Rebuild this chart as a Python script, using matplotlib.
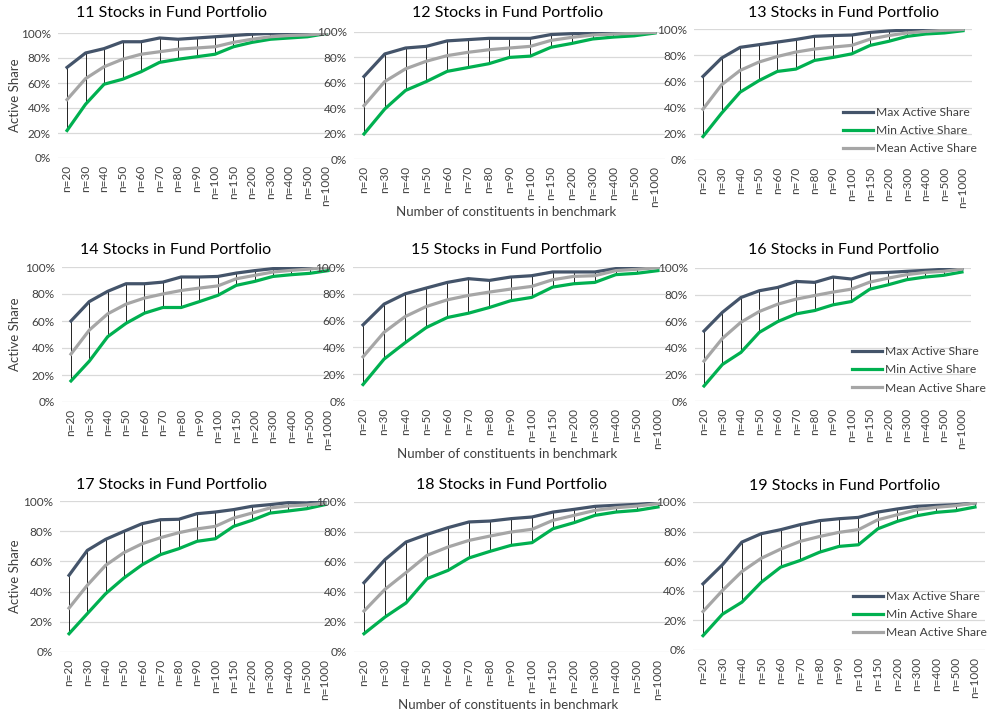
import matplotlib
matplotlib.use("Agg")
from matplotlib import pyplot as plt
from matplotlib.ticker import PercentFormatter

plt.rcParams['font.family'] = ['Lato', 'DejaVu Sans']

# benchmark sizes on the category axis
categories = ["n=20", "n=30", "n=40", "n=50", "n=60", "n=70", "n=80", "n=90",
              "n=100", "n=150", "n=200", "n=300", "n=400", "n=500", "n=1000"]

# active share (%) per number of stocks in the fund
max11 = [72.5, 84, 87.5, 93, 93, 96, 95, 96, 97, 98, 99, 99.7, 100, 100, 100]
min11 = [22, 43, 59, 63, 69, 76.5, 79, 81, 83, 89, 92.5, 95, 96, 97, 99.5]
mean11 = [46.7, 63.5, 73, 79, 83, 85, 87, 88, 89, 92.5, 95, 97, 98, 98.5, 99.5]

max12 = [65, 82.7, 87.4, 88.7, 93, 94, 95, 95, 95, 98, 98.7, 99.2, 99.5, 99.7, 100]
min12 = [19.7, 39.4, 54, 61, 69, 72, 75, 80, 81, 88, 91, 94.5, 96, 97, 99.2]
mean12 = [42, 61, 71, 77, 81.4, 84, 86, 87.4, 88.7, 93.4, 95.8, 97.6, 98.4, 99, 99.7]

max13 = [63.8, 77.8, 86, 88, 90, 92, 94.4, 95, 95.4, 97.4, 98.5, 99.2, 100, 100, 100]
min13 = [17.9, 35.7, 51.8, 60.5, 67.6, 69.4, 76, 78.3, 81, 87.5, 90.6, 94.4, 96.2, 97, 98.7]
mean13 = [38.8, 57.4, 68.4, 74.7, 79, 82.4, 84.7, 86.2, 87.5, 92.3, 95, 97, 98.2, 99, 99.7]

max14 = [60, 74.4, 82, 87.6, 87.6, 88.8, 92.6, 92.6, 93, 95.5, 97.3, 98.8, 99, 99.5, 100]
min14 = [15.6, 30.3, 48.4, 58.3, 65.8, 70, 70, 74.4, 79, 86.4, 89.3, 93, 94.3, 95.3, 97.3]
mean14 = [35.5, 53.3, 65.3, 72.5, 77, 80, 82.6, 84.4, 86, 91.3, 93.8, 96.3, 97.5, 98.5, 99.8]

max15 = [56.8, 72.3, 80, 84.3, 88.5, 91.3, 90, 92.5, 93.5, 96.3, 96.3, 96.3, 98.8, 99.3, 100]
min15 = [12.3, 31.3, 43.5, 54.8, 62.3, 65.5, 69.8, 74.8, 77.3, 85, 87.5, 88.5, 94.3, 95.3, 97.3]
mean15 = [33, 51.3, 63, 70.5, 75.5, 78.8, 81.3, 83.5, 85.5, 90.5, 93, 93.5, 97.3, 98.3, 99.5]

max16 = [52.6, 66.7, 77.8, 82.9, 85.4, 89.9, 89.2, 93.2, 91.7, 96.2, 96.7, 97.5, 98.2, 99, 99.5]
min16 = [11.3, 27.5, 36.5, 51.6, 59.7, 65.5, 68, 72.3, 74.8, 84.1, 87.4, 91.2, 93.2, 94.5, 97]
mean16 = [30, 47.1, 59.2, 67.3, 72.8, 76.6, 79.3, 81.9, 84.1, 89.4, 92.4, 95, 96.7, 97.5, 99.2]

max17 = [50.8, 67.3, 74.6, 79.9, 85, 87.6, 87.9, 91.6, 92.7, 94.3, 96.5, 97.6, 98.9, 98.7, 99.8]
min17 = [12.1, 25.4, 38.6, 49, 57.8, 64.5, 68.4, 73.3, 75, 83.2, 87.2, 92, 93.4, 94.9, 97.6]
mean17 = [29.1, 44.2, 57.4, 65.8, 71.7, 75.7, 79, 81.5, 83.2, 88.7, 92, 95.4, 96.7, 97.4, 98.5]

max18 = [46.2, 61.6, 73.3, 78.4, 82.9, 86.7, 87.3, 88.9, 90, 93.3, 95.1, 97.1, 97.8, 98.4, 99.5]
min18 = [12.2, 23.3, 32.7, 48.9, 54.4, 62.7, 67.1, 71.1, 72.9, 82.2, 86.2, 91.1, 93.3, 94.4, 96.7]
mean18 = [27.3, 41.8, 52.9, 64.4, 70, 74.4, 77.3, 80, 81.8, 87.8, 91.1, 94.4, 96.2, 97.3, 98.9]

max19 = [44.7, 57.6, 72.9, 78.6, 81.3, 84.7, 87.4, 88.7, 89.6, 93.2, 95.3, 97.1, 97.7, 98.2, 99.3]
min19 = [9.7, 24.2, 32.3, 45.8, 56, 60.5, 66.1, 70, 71.1, 81.9, 86.9, 90.7, 93, 94.1, 96.6]
mean19 = [26, 40.2, 53, 62, 68.2, 73.4, 76.7, 79.5, 81.3, 88, 91.4, 94.8, 96.4, 97.5, 99.3]

panels = [
    (11, max11, min11, mean11), (12, max12, min12, mean12), (13, max13, min13, mean13),
    (14, max14, min14, mean14), (15, max15, min15, mean15), (16, max16, min16, mean16),
    (17, max17, min17, mean17), (18, max18, min18, mean18), (19, max19, min19, mean19),
]

W, H = 993, 714
# plot areas in pixels: left, right, top (100%), bottom (0%)
boxes = [
    (57.8, 335.2, 33, 158), (353.6, 665.4, 32, 159), (693.7, 972.3, 29, 160),
    (61.8, 337.2, 267, 402), (352.5, 668.5, 267, 401), (694.8, 971.2, 268, 401),
    (59.9, 334.1, 501, 652), (353.5, 668.5, 502, 652), (693.3, 984.7, 502, 650),
]
# title centres in pixels
title_xy = [(172, 13), (508, 13), (844, 13),
            (176, 250), (507, 250), (844, 250),
            (172, 485), (512, 485), (845, 486)]
# legend: left of handle and y of first entry, pixels
legend_xy = {2: (843, 115), 5: (852, 354), 8: (853, 599)}

c_max = "#44546A"
c_min = "#00B050"
c_mean = "#A6A6A6"

fig = plt.figure(figsize=(W / 100, H / 100), dpi=100)
x = list(range(len(categories)))

for i, (nst, vmax, vmin, vmean) in enumerate(panels):
    l, r, t, b = boxes[i]
    ax = fig.add_axes([l / W, 1 - b / H, (r - l) / W, (b - t) / H])

    ax.vlines(x, vmin, vmax, color="black", lw=0.6, zorder=2)
    ax.plot(x, vmax, color=c_max, lw=2.3, label="Max Active Share", zorder=3)
    ax.plot(x, vmin, color=c_min, lw=2.3, label="Min Active Share", zorder=3)
    ax.plot(x, vmean, color=c_mean, lw=2.3, label="Mean Active Share", zorder=4)

    ax.set_xlim(-0.5, len(categories) - 0.5)
    ax.set_ylim(0, 100)
    ax.set_yticks([0, 20, 40, 60, 80, 100])
    ax.yaxis.set_major_formatter(PercentFormatter(decimals=0))
    ax.set_xticks(x)
    ax.set_xticklabels(categories, rotation=90)
    ax.tick_params(length=0, labelsize=8.5, colors="#404040", pad=5)
    ax.grid(axis="y", color="#D9D9D9", lw=0.9)
    ax.set_axisbelow(True)
    for s in ax.spines.values():
        s.set_visible(False)

    tx, ty = title_xy[i]
    fig.text(tx / W, 1 - ty / H, f"{nst} Stocks in Fund Portfolio",
             ha="center", va="center", fontsize=11.5, color="black")

    if i % 3 == 0:
        fig.text(15 / W, 1 - ((t + b) / 2) / H, "Active Share", rotation=90,
                 ha="center", va="center", fontsize=9.5, color="#404040")
    if i % 3 == 1:
        fig.text(((l + r) / 2 - 3) / W, 1 - (b + 53) / H,
                 "Number of constituents in benchmark",
                 ha="center", va="center", fontsize=9.5, color="#404040")
    if i in legend_xy:
        lx, ly = legend_xy[i]
        ax.legend(loc="upper left", bbox_to_anchor=(lx / W, 1 - (ly - 8) / H),
                  bbox_transform=fig.transFigure, frameon=False, fontsize=8.7,
                  handlelength=2.5, handletextpad=0.2, labelspacing=0.6,
                  borderpad=0, borderaxespad=0, labelcolor="#404040")

fig.savefig("out.png", dpi=100)
